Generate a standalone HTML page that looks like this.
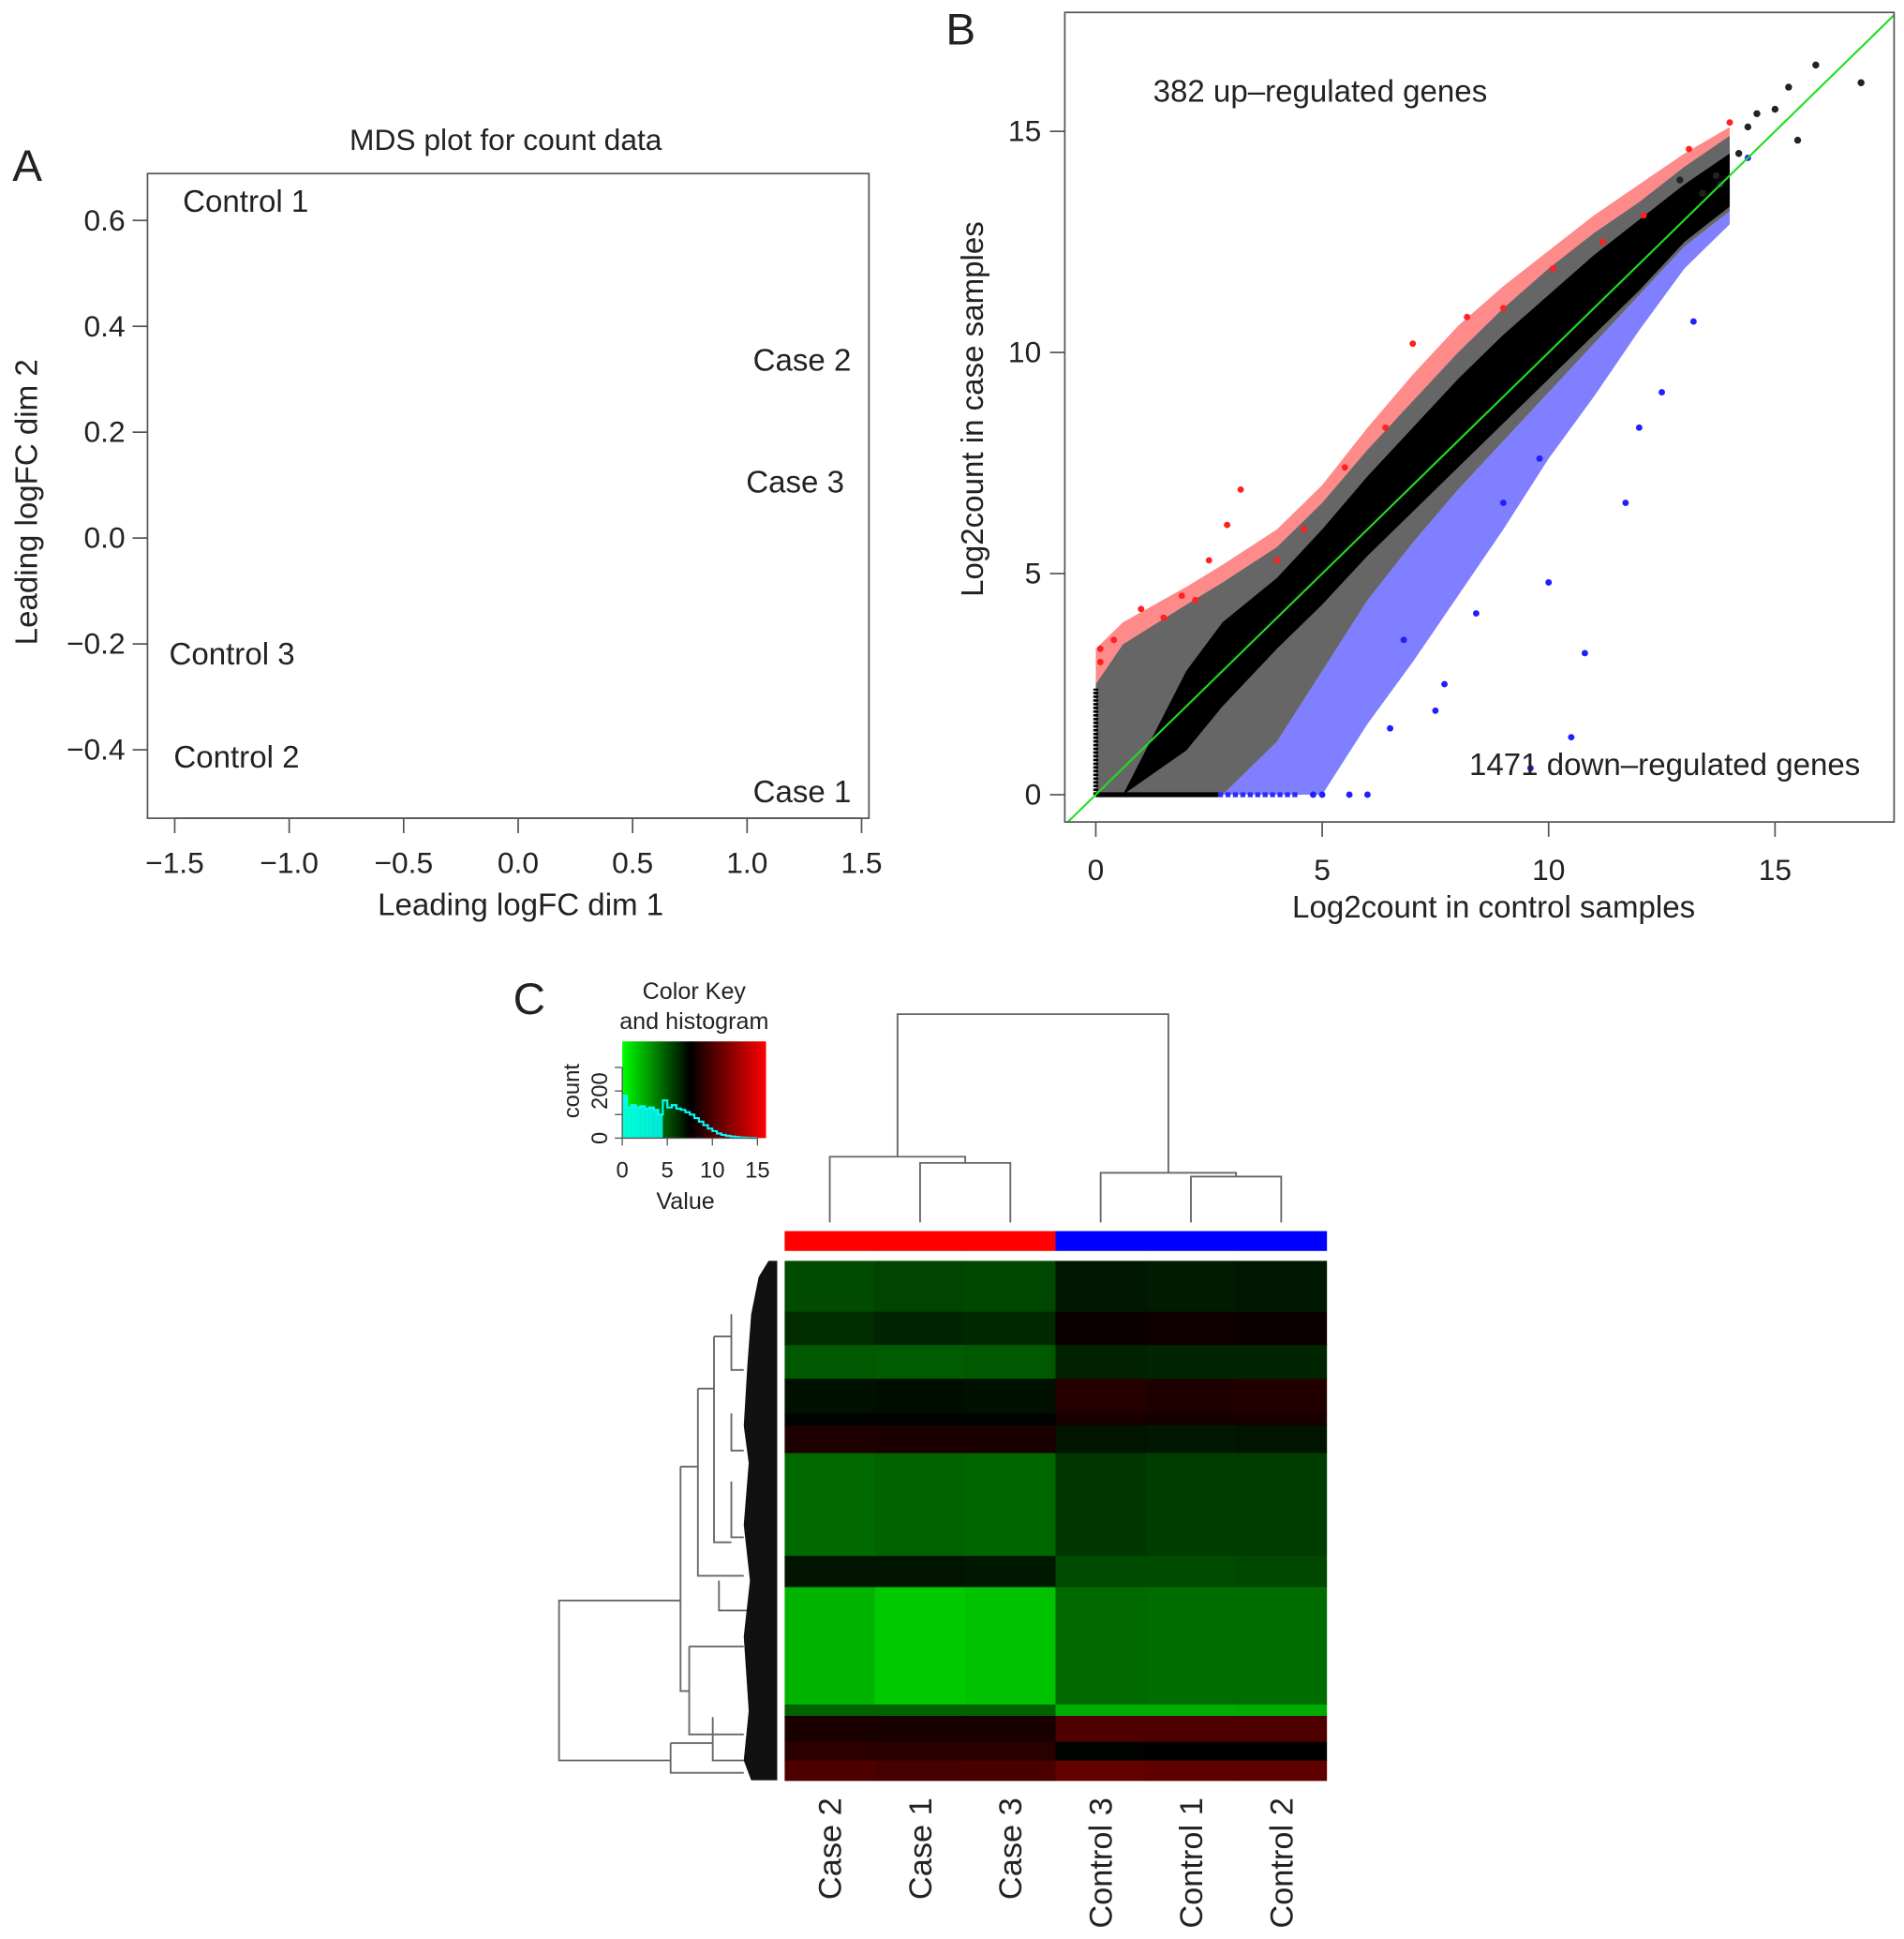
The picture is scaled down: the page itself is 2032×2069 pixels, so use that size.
<!DOCTYPE html>
<html><head><meta charset="utf-8"><style>
html,body{margin:0;padding:0;background:#fff}
svg{display:block}
text{font-family:"Liberation Sans",Arial,sans-serif;fill:#222}
</style></head><body>
<svg id="s" width="2032" height="2069" viewBox="0 0 1536 1564" preserveAspectRatio="none" xmlns="http://www.w3.org/2000/svg">
<rect width="1536" height="1564" fill="#fff"/>
<g id="pa"></g>
<g id="pb"></g>
<g id="pc"></g>
</svg>
<script>
// ---------- Panel A data ----------
const mdsLabels = ["Control 1","Case 2","Case 3","Control 3","Control 2","Case 1"];
const mdsX = [-1.19, 1.24, 1.21, -1.25, -1.23, 1.24];
const mdsY = [0.635, 0.335, 0.105, -0.22, -0.415, -0.48];
const mdsXTicks = [-1.5,-1.0,-0.5,0.0,0.5,1.0,1.5];
const mdsXTickLabels = ["\u22121.5","\u22121.0","\u22120.5","0.0","0.5","1.0","1.5"];
const mdsYTicks = [0.6,0.4,0.2,0.0,-0.2,-0.4];
const mdsYTickLabels = ["0.6","0.4","0.2","0.0","\u22120.2","\u22120.4"];
// ---------- Panel B data ----------
const bandX      = [0,   0.6, 2,   2.8, 4,   5,   6,   7,   8,   9,   10,  11,  12,  13,  14];
const bandLo     = [0,   0,   0,   0,   1.2, 2.8, 4.4, 5.7, 6.9, 8.0, 9.1, 10.2,11.3,12.4,13.2];
const bandHi     = [2.5, 3.4, 4.3, 4.8, 5.6, 6.6, 7.8, 8.9, 10.0,11.0,11.9,12.7,13.4,14.2,14.9];
const coreLo     = [0,   0,   1.0, 2.0, 3.3, 4.3, 5.4, 6.4, 7.4, 8.4, 9.4, 10.4,11.4,12.5,13.3];
const coreHi     = [0,   0,   2.8, 3.9, 4.9, 6.0, 7.2, 8.3, 9.4, 10.4,11.3,12.2,13.0,13.8,14.5];
const fringeLo   = [0,   0,   0,   0,   0,   0,   1.6, 3.0, 4.5, 6.0, 7.6, 9.0, 10.5,11.9,12.9];
const fringeHi   = [3.3, 3.9, 4.7, 5.2, 6.0, 7.0, 8.3, 9.5, 10.6,11.5,12.3,13.1,13.8,14.5,15.1];
const upX = [0.1,0.4,1.0,1.5,2.2,2.5,3.2,4.0,4.6,5.5,6.4,7.0,8.2,9.0,10.1,11.2,12.1,13.1,14.0,0.1,1.9,2.9];
const upY = [3.3,3.5,4.2,4.0,4.4,5.3,6.9,5.3,6.0,7.4,8.3,10.2,10.8,11.0,11.9,12.5,13.1,14.6,15.2,3.0,4.5,6.1];
const downX = [10.8,9.6,10.5,10.0,11.7,12.5,13.2,14.4,9.0,8.4,7.7,6.5,5.0,6.0,6.8,4.8,7.5,12.0,5.6,9.8];
const downY = [3.2,0.6,1.3,4.8,6.6,9.1,10.7,14.4,6.6,4.1,2.5,1.5,0.0,0.0,3.5,0.0,1.9,8.3,0.0,7.6];
const blackX = [15.9,16.9,15.3,14.4,13.7,15.5,12.9,13.8,14.2,14.6,13.4,15.0];
const blackY = [16.5,16.1,16.0,15.1,14.0,14.8,13.9,13.8,14.5,15.4,13.6,15.5];
const bXTicks = [0,5,10,15];
const bYTicks = [0,5,10,15];
// ---------- Panel C data ----------
const sampleNames = ["Case 2","Case 1","Case 3","Control 3","Control 1","Control 2"];
const sampleGroup = ["case","case","case","control","control","control"];
const rowStart = [0,0.098,0.162,0.227,0.293,0.317,0.370,0.568,0.628,0.854,0.876,0.926,0.962];
const rowEnd   = [0.098,0.162,0.227,0.293,0.317,0.370,0.568,0.628,0.854,0.876,0.926,0.962,1.0];
const heatVals = [
 [5.3,5.5,5.4,6.8,6.7,6.8],
 [6.2,6.4,6.3,7.8,7.9,7.8],
 [4.9,4.8,4.9,6.5,6.4,6.4],
 [7.0,7.1,7.0,8.6,8.4,8.5],
 [7.4,7.4,7.4,8.2,8.1,8.2],
 [8.4,8.3,8.3,6.9,6.8,6.9],
 [4.4,4.6,4.5,5.9,5.7,5.7],
 [6.9,6.9,6.8,5.3,5.3,5.4],
 [2.2,1.6,1.8,4.4,4.3,4.3],
 [4.6,4.6,4.6,2.4,2.4,2.5],
 [8.3,8.2,8.2,9.8,9.8,9.8],
 [8.8,8.7,8.7,7.4,7.5,7.5],
 [9.8,9.6,9.7,10.4,10.3,10.3]
];
const histBins   = [0.5,1,1.5,2,2.5,3,3.5,4,4.5,5,5.5,6,6.5,7,7.5,8,8.5,9,9.5,10,10.5,11,11.5,12,12.5,13,13.5,14,14.5,15];
const histCounts = [180,130,140,130,135,125,130,120,100,160,130,140,125,120,110,100,85,70,55,40,30,20,14,10,7,5,3,2,1,1];
const keyTicks = [0,5,10,15];
const countTicks = [0,100,200,300];

const NS="http://www.w3.org/2000/svg";
function mk(tag, attrs, parent, txt){const e=document.createElementNS(NS,tag);for(const k in attrs)e.setAttribute(k,attrs[k]);if(txt!==undefined)e.textContent=txt;parent.appendChild(e);return e;}
function valColor(v){if(v<=7.5){const g=Math.round((7.5-v)/7.5*255);return `rgb(0,${g},0)`;}const r=Math.round(Math.min(1,(v-7.5)/7.5)*255);return `rgb(${r},0,0)`;}

// ---------- Panel A ----------
(function(){
const g=document.getElementById('pa');
const ax=v=>418+v*184.7, ay=v=>434-v*427;
let t=mk('text',{x:10,y:146,'font-size':36},g,'A');
t=mk('text',{x:408,y:121,'font-size':24,'text-anchor':'middle'},g,'MDS plot for count data');
let r=mk('rect',{x:119,y:140,width:582,height:520,fill:'none',stroke:'#555','stroke-width':1.3},g);
mdsXTicks.forEach((v,i)=>{const l=mk('line',{x1:ax(v),x2:ax(v),y1:660,y2:672,stroke:'#555','stroke-width':1.3},g);
 const tt=mk('text',{x:ax(v),y:704,'font-size':24,'text-anchor':'middle'},g,mdsXTickLabels[i]);});
mk('line',{x1:ax(-1.5),x2:ax(1.5),y1:660,y2:660,stroke:'#555','stroke-width':1.3},g);
mdsYTicks.forEach((v,i)=>{const l=mk('line',{x1:107,x2:119,y1:ay(v),y2:ay(v),stroke:'#555','stroke-width':1.3},g);
 const tt=mk('text',{x:101,y:ay(v)+8,'font-size':24,'text-anchor':'end'},g,mdsYTickLabels[i]);});
t=mk('text',{x:420,y:738,'font-size':25,'text-anchor':'middle'},g,'Leading logFC dim 1');
t=mk('text',{x:0,y:0,'font-size':25,'text-anchor':'middle',transform:'translate(30,405) rotate(-90)'},g,'Leading logFC dim 2');
mdsLabels.forEach((s,i)=>{const tt=mk('text',{x:ax(mdsX[i]),y:ay(mdsY[i])+8,'font-size':25,'text-anchor':'middle'},g,s);});
})();

// ---------- Panel B ----------
(function(){
const g=document.getElementById('pb');
const bx=v=>884+v*36.53, by=v=>641-v*35.67;
let t=mk('text',{x:763,y:36,'font-size':36},g,'B');
const cp=mk('clipPath',{id:'bclip'},g);mk('rect',{x:859,y:10,width:669,height:653},cp);
const pg=mk('g',{'clip-path':'url(#bclip)'},g);
function poly(lo,hi,fill,name,op){let pts=[];bandX.forEach((x,i)=>pts.push(bx(x)+','+by(hi[i])));for(let i=bandX.length-1;i>=0;i--)pts.push(bx(bandX[i])+','+by(lo[i]));
 const p=mk('polygon',{points:pts.join(' '),fill:fill,'fill-opacity':op},pg);}
poly(fringeLo,bandLo,'#2a2aff','down-regulated-region',0.6);
poly(bandHi,fringeHi,'#ff2a2a','up-regulated-region',0.55);
poly(bandLo,bandHi,'#000','unchanged-genes-sparse',0.6);
poly(coreLo,coreHi,'#000','unchanged-genes-core',1);
let l=mk('line',{x1:bx(0),x2:bx(2.7),y1:by(0),y2:by(0),stroke:'#000','stroke-width':4},pg);
l=mk('line',{x1:bx(2.7),x2:bx(4.5),y1:by(0),y2:by(0),stroke:'#2a2aff','stroke-width':4,'stroke-dasharray':'4 2'},pg);
l=mk('line',{x1:bx(0),x2:bx(0),y1:by(0),y2:by(2.4),stroke:'#000','stroke-width':4,'stroke-dasharray':'2 1'},pg);
upX.forEach((x,i)=>{const c=mk('circle',{cx:bx(x),cy:by(upY[i]),r:2.6,fill:'#ff2020'},pg);});
downX.forEach((x,i)=>{const c=mk('circle',{cx:bx(x),cy:by(downY[i]),r:2.6,fill:'#2020ff'},pg);});
blackX.forEach((x,i)=>{const c=mk('circle',{cx:bx(x),cy:by(blackY[i]),r:2.8,fill:'#222'},pg);});
l=mk('line',{x1:bx(-1),y1:by(-1),x2:bx(18),y2:by(18),stroke:'#22dd22','stroke-width':1.6},pg);
let r=mk('rect',{x:859,y:10,width:669,height:653,fill:'none',stroke:'#555','stroke-width':1.3},g);
bXTicks.forEach(v=>{mk('line',{x1:bx(v),x2:bx(v),y1:663,y2:675,stroke:'#555','stroke-width':1.3},g);
 const tt=mk('text',{x:bx(v),y:710,'font-size':24,'text-anchor':'middle'},g,String(v));});
bYTicks.forEach(v=>{mk('line',{x1:847,x2:859,y1:by(v),y2:by(v),stroke:'#555','stroke-width':1.3},g);
 const tt=mk('text',{x:840,y:by(v)+8,'font-size':24,'text-anchor':'end'},g,String(v));});
t=mk('text',{x:1205,y:740,'font-size':25,'text-anchor':'middle'},g,'Log2count in control samples');
t=mk('text',{x:0,y:0,'font-size':25,'text-anchor':'middle',transform:'translate(793,330) rotate(-90)'},g,'Log2count in case samples');
t=mk('text',{x:1065,y:82,'font-size':25,'text-anchor':'middle'},g,'382 up\u2013regulated genes');
t=mk('text',{x:1343,y:625,'font-size':25,'text-anchor':'middle'},g,'1471 down\u2013regulated genes');
})();

// ---------- Panel C ----------
(function(){
const g=document.getElementById('pc');
let t=mk('text',{x:414,y:818,'font-size':36},g,'C');
const kx=v=>502+v*7.27, ky=c=>918-c*0.19;
const defs=mk('defs',{},g);
const lg=mk('linearGradient',{id:'kg',x1:0,x2:1,y1:0,y2:0},defs);
mk('stop',{offset:'0','stop-color':'#00ff00'},lg);mk('stop',{offset:'0.47','stop-color':'#000'},lg);mk('stop',{offset:'1','stop-color':'#ff0000'},lg);
let r=mk('rect',{x:502,y:840,width:116,height:78,fill:'url(#kg)'},g);
let d='';histBins.forEach((b,i)=>{d+=(i?'L':'M')+kx(b-0.5)+','+ky(histCounts[i])+'L'+kx(b)+','+ky(histCounts[i]);});
let p=mk('path',{d:d,fill:'none',stroke:'#00ffff','stroke-width':1.6},g);
histBins.forEach((b,i)=>{if(b<=4.5){const rr=mk('rect',{x:kx(b-0.5),y:ky(histCounts[i]),width:3.6,height:918-ky(histCounts[i]),fill:'#00ffff','fill-opacity':0.85},g);}});
keyTicks.forEach(v=>{mk('line',{x1:kx(v),x2:kx(v),y1:918,y2:924,stroke:'#555'},g);const tt=mk('text',{x:kx(v),y:950,'font-size':18,'text-anchor':'middle'},g,String(v));});
mk('line',{x1:kx(0),x2:kx(15),y1:918,y2:918,stroke:'#555'},g);
countTicks.forEach(c=>{mk('line',{x1:496,x2:502,y1:ky(c),y2:ky(c),stroke:'#555'},g);});
mk('line',{x1:502,x2:502,y1:ky(0),y2:ky(300),stroke:'#555'},g);
t=mk('text',{x:0,y:0,'font-size':18,'text-anchor':'middle',transform:`translate(490,${ky(0)}) rotate(-90)`},g,'0');
t=mk('text',{x:0,y:0,'font-size':18,'text-anchor':'middle',transform:`translate(490,${ky(200)}) rotate(-90)`},g,'200');
t=mk('text',{x:0,y:0,'font-size':18,'text-anchor':'middle',transform:'translate(467,880) rotate(-90)'},g,'count');
t=mk('text',{x:553,y:975,'font-size':19,'text-anchor':'middle'},g,'Value');
t=mk('text',{x:560,y:806,'font-size':19,'text-anchor':'middle'},g,'Color Key');
t=mk('text',{x:560,y:830,'font-size':19,'text-anchor':'middle'},g,'and histogram');
const hx0=633,hx1=1070,hy0=1017,hy1=1436,cw=(hx1-hx0)/6,hh=hy1-hy0;
sampleNames.forEach((s,j)=>{
 const rr=mk('rect',{x:hx0+j*cw,y:993,width:cw+0.5,height:16,fill:sampleGroup[j]==='case'?'#ff0000':'#0000ff'},g);
 heatVals.forEach((row,i)=>{const c=mk('rect',{x:hx0+j*cw,y:hy0+rowStart[i]*hh,width:cw+0.5,height:(rowEnd[i]-rowStart[i])*hh+0.5,fill:valColor(row[j])},g);});
 const cx=hx0+(j+0.5)*cw;
 const tt=mk('text',{x:0,y:0,'font-size':26,'text-anchor':'end',transform:`translate(${cx+9},1450) rotate(-90)`},g,s);
});
const L=j=>hx0+(j+0.5)*cw;
const dg=mk('g',{stroke:'#666','stroke-width':1.4,fill:'none'},g);
const seg=(a)=>mk('path',{d:a},dg);
seg(`M${L(1)},986V938H${L(2)}V986`);
seg(`M${L(0)},986V933H${(L(1)+L(2))/2}V938`);
seg(`M${L(4)},986V949H${L(5)}V986`);
seg(`M${L(3)},986V946H${(L(4)+L(5))/2}V949`);
seg(`M${(L(0)+(L(1)+L(2))/2)/2},933V818H${(L(3)+(L(4)+L(5))/2)/2}V946`);
const rg=mk('g',{stroke:'#666','stroke-width':1.4,fill:'none'},g);
const rs=a=>mk('path',{d:a},rg);
rs('M549,1291H451V1420H541');
rs('M549,1183V1364H556');
rs('M549,1183H563');
rs('M556,1328V1399H600');
rs('M556,1328H600');
rs('M541,1406V1430H600');
rs('M541,1406H575');
rs('M563,1120V1271H600');
rs('M563,1120H576');
rs('M576,1078V1244H590');
rs('M576,1078H590');
rs('M590,1060V1105H600');
rs('M590,1140V1170H600');
rs('M590,1195V1240H600');
rs('M580,1275V1299H605');
rs('M575,1385V1420H600');
const comb=mk('polygon',{points:'627,1017 620,1017 612,1030 606,1060 603,1100 600,1150 604,1180 600,1230 605,1275 600,1320 604,1380 600,1420 606,1436 627,1436',fill:'#111'},g);
})();
</script>
</body></html>
